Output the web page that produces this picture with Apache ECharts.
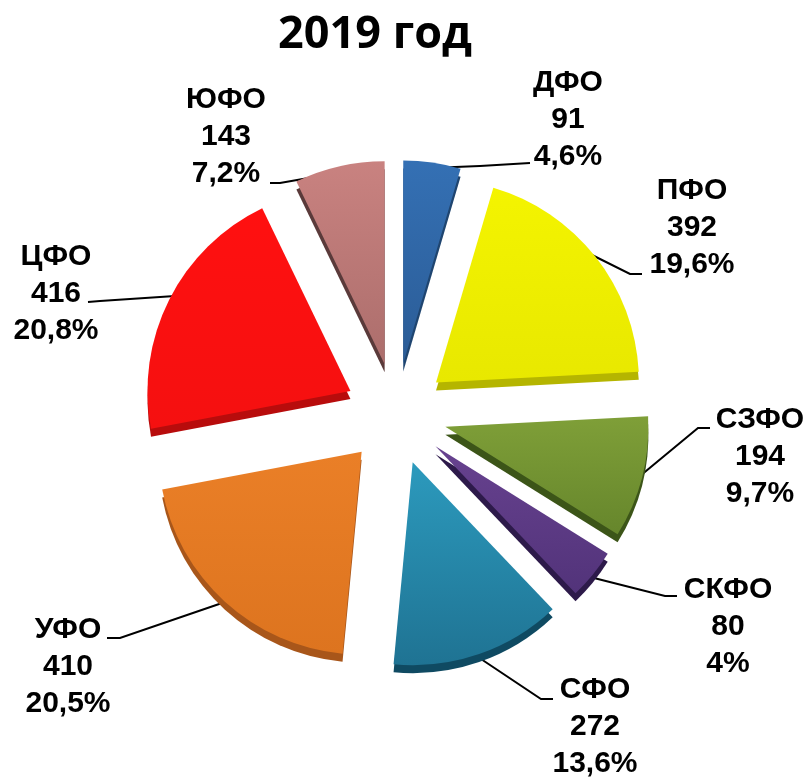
<!DOCTYPE html>
<html><head><meta charset="utf-8">
<script src="https://cdn.jsdelivr.net/npm/echarts@6/dist/echarts.min.js"></script>
<style>html,body{margin:0;padding:0;background:#fff}#c{width:811px;height:778px}</style>
</head><body><div id="c"></div>
<script>
const districts = ['ДФО','ПФО','СЗФО','СКФО','СФО','УФО','ЦФО','ЮФО'];
const counts = [91,392,194,80,272,410,416,143];
const shares = ['4,6%','19,6%','9,7%','4%','13,6%','20,5%','20,8%','7,2%'];
const topColors = ['#3470b4','#f4f400','#7f9f38','#67428f','#2c9abd','#ea7f27','#ff1010','#c98280'];
const bottomColors = ['#2b5c96','#e8e800','#66862c','#52337a','#1f7393','#dd741f','#f51010','#ac6e6c'];
const sideColors = ['#1f4570','#b5b500','#3c5518','#2d1a4a','#0f4a62','#a8561a','#b80c0c','#5a3a3a'];
const labelSpots = {'ДФО':[568,120],'ПФО':[692,228],'СЗФО':[760,457],'СКФО':[728,627],'СФО':[595,727],'УФО':[68,667],'ЦФО':[56,294],'ЮФО':[226,137]};
const leaderLines = {
  'ДФО':[[430,168],[480,166],[530,163]],
  'ПФО':[[590,254],[630,274],[642,274]],
  'СЗФО':[[640,476],[698,428],[710,428]],
  'СКФО':[[590,577],[665,596],[677,596]],
  'СФО':[[478,657],[541,699],[553,699]],
  'УФО':[[225,602],[120,638],[107,638]],
  'ЦФО':[[175,296],[100,301],[88,302]],
  'ЮФО':[[337,173],[280,183],[270,183]]
};
const centre = [396,414], r = 203, off = 51;
const chart = echarts.init(document.getElementById('c'));
const base = {type:'pie',center:centre,radius:[0,r],startAngle:90,clockwise:true,selectedMode:'multiple',selectedOffset:off,animation:false,
  emphasis:{disabled:true},avoidLabelOverlap:false,label:{show:false},labelLine:{show:false}};
chart.setOption({
  title:{text:'2019 год',left:370,top:8,textAlign:'center',textStyle:{fontFamily:'Open Sans',fontWeight:'bold',fontSize:45,color:'#000'}},
  series:[
    Object.assign({},base,{center:[centre[0],centre[1]+8],silent:true,
      data:districts.map((n,i)=>({name:n,value:counts[i],selected:true,itemStyle:{color:sideColors[i]}}))}),
    Object.assign({},base,{silent:true,
      data:districts.map((n,i)=>({name:n,value:counts[i],selected:true,itemStyle:{color:{type:'linear',x:0,y:0,x2:0,y2:1,colorStops:[{offset:0,color:topColors[i]},{offset:1,color:bottomColors[i]}]}}}))}),
    {type:'pie',center:centre,radius:[0,r+off-1],startAngle:90,clockwise:true,animation:false,silent:true,avoidLabelOverlap:false,
      itemStyle:{color:'rgba(0,0,0,0)'},emphasis:{disabled:true},
      data:districts.map((n,i)=>({name:n,value:counts[i]})),
      label:{show:true,position:'outside',color:'#000',fontFamily:'Liberation Sans',fontWeight:'bold',fontSize:30,lineHeight:37,align:'center',
        formatter:p=>p.name+'\n'+p.value+'\n'+shares[p.dataIndex]},
      labelLine:{show:true,length:25,length2:25,lineStyle:{color:'#000',width:2}},
      labelLayout:p=>{const n=districts[p.dataIndex],s=labelSpots[n];return {x:s[0],y:s[1],align:'center',verticalAlign:'middle',moveOverlap:false,labelLinePoints:leaderLines[n]};}
    }
  ]
});
</script></body></html>
